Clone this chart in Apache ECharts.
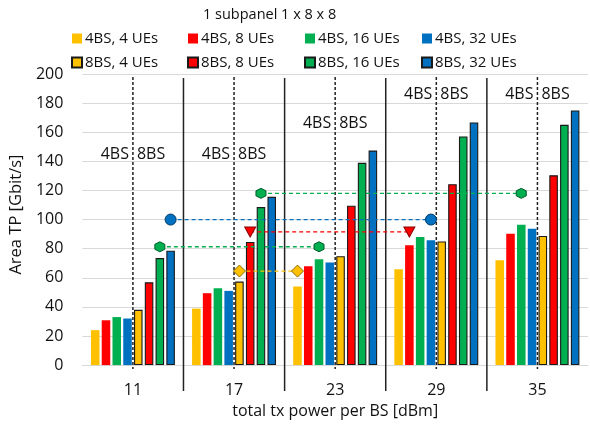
<!DOCTYPE html>
<html><head><meta charset="utf-8">
<script src="https://cdn.jsdelivr.net/npm/echarts@6/dist/echarts.min.js"></script>
<style>html,body{margin:0;padding:0;background:#fff}#c{width:590px;height:424px}</style>
</head><body><div id="c"></div><script>
// ---- data ----
const categories = ['11', '17', '23', '29', '35'];
const seriesNames = ['4BS, 4 UEs', '4BS, 8 UEs', '4BS, 16 UEs', '4BS, 32 UEs',
                     '8BS, 4 UEs', '8BS, 8 UEs', '8BS, 16 UEs', '8BS, 32 UEs'];
const bs4ue4  = [24.0, 38.8, 54.0, 65.8, 72.0];
const bs4ue8  = [30.8, 49.4, 68.0, 82.3, 90.3];
const bs4ue16 = [33.0, 52.8, 72.8, 88.0, 96.4];
const bs4ue32 = [32.0, 51.0, 70.5, 85.7, 93.7];
const bs8ue4  = [38.0, 57.4, 74.8, 85.0, 88.7];
const bs8ue8  = [56.9, 84.6, 109.5, 124.3, 130.4];
const bs8ue16 = [73.5, 108.6, 139.0, 157.1, 165.1];
const bs8ue32 = [78.6, 115.6, 147.4, 166.7, 175.0];
const yTicks = { min: 0, max: 200, interval: 20 };
// equal-throughput markers: value, from (category, series) to (category, series)
const matchValues     = [100, 81.3, 64.6, 91.5, 118];
const matchFromCat    = [0, 0, 1, 1, 1];
const matchFromSeries = [7, 6, 4, 5, 6];
const matchToCat      = [3, 2, 2, 3, 4];
const matchToSeries   = [3, 2, 0, 1, 2];
// "4BS | 8BS" annotation heights per category
const annoValues = [145, 145, 166, 186, 186];
const annoLeft = '4BS', annoRight = '8BS';

// ---- styles ----
const FONT = 'Open Sans';
const colors = ['#FFC000', '#FF0000', '#00B050', '#0070C0'];
const darkColors = ['#8a6a00', '#8a0000', '#005c2a', '#003a66'];
const CAT_GAP = 0.17, BAR_GAP = 0.26, N = 8;
const HEX = 'path://M0,-1L0.866,-0.5L0.866,0.5L0,1L-0.866,0.5L-0.866,-0.5Z';
const matchSymbols = ['circle', HEX, 'diamond', 'triangle', HEX];
const matchColorIdx = [3, 2, 0, 1, 2];
const matchSizes = [11, [10, 10], [12, 12], [11, 10], [10, 10]];
const matchRotate = [0, 0, 0, 180, 0];

function barCenterFrac(i) {
  const w = (1 - CAT_GAP) / (N + (N - 1) * BAR_GAP);
  const total = N * w + (N - 1) * w * BAR_GAP;
  return -total / 2 + i * w * (1 + BAR_GAP) + w / 2;
}

const allValues = [bs4ue4, bs4ue8, bs4ue16, bs4ue32, bs8ue4, bs8ue8, bs8ue16, bs8ue32];
const series = allValues.map((vals, i) => ({
  name: seriesNames[i],
  type: 'bar',
  data: vals,
  barGap: (BAR_GAP * 100) + '%',
  barCategoryGap: (CAT_GAP * 100) + '%',
  itemStyle: i < 4
    ? { color: colors[i % 4] }
    : { color: colors[i % 4], borderColor: '#1a1a1a', borderWidth: 1.1 },
  z: 2
}));

// dividers between categories
series.push({
  type: 'custom', xAxisIndex: 1, yAxisIndex: 0, clip: false, silent: true, z: 3,
  data: categories.slice(0, -1).map((c, i) => [i + 0.5]),
  renderItem: (p, api) => {
    const t = api.coord([api.value(0), yTicks.max]);
    const b = api.coord([api.value(0), yTicks.min]);
    return { type: 'line', shape: { x1: t[0], y1: t[1] + 4, x2: b[0], y2: b[1] + 26 },
             style: { stroke: '#222', lineWidth: 1.5 } };
  }
});
// dashed center lines separating 4BS / 8BS
series.push({
  type: 'custom', xAxisIndex: 1, yAxisIndex: 0, clip: false, silent: true, z: 6,
  data: categories.map((c, i) => [i]),
  renderItem: (p, api) => {
    const t = api.coord([api.value(0), yTicks.max]);
    const b = api.coord([api.value(0), yTicks.min]);
    return { type: 'line', shape: { x1: t[0], y1: t[1] + 3, x2: b[0], y2: b[1] + 4 },
             style: { stroke: '#222', lineWidth: 1.5, lineDash: [3, 2] } };
  }
});
// annotations
series.push({
  type: 'custom', xAxisIndex: 1, yAxisIndex: 0, clip: false, silent: true, z: 7,
  data: annoValues.map((v, i) => [i, v]),
  renderItem: (p, api) => {
    const pt = api.coord([api.value(0), api.value(1)]);
    const st = { fontSize: 16, fontFamily: FONT, fill: '#111', verticalAlign: 'middle' };
    return { type: 'group', children: [
      { type: 'text', x: pt[0] - 4, y: pt[1], style: Object.assign({ text: annoLeft, align: 'right' }, st) },
      { type: 'text', x: pt[0] + 4, y: pt[1], style: Object.assign({ text: annoRight, align: 'left' }, st) }
    ] };
  }
});
// equal-throughput connectors
matchValues.forEach((v, k) => {
  const ci = matchColorIdx[k];
  series.push({
    type: 'line', xAxisIndex: 1, yAxisIndex: 0, z: 8, silent: true,
    data: [[matchFromCat[k] + barCenterFrac(matchFromSeries[k]), v],
           [matchToCat[k] + barCenterFrac(matchToSeries[k]), v]],
    symbol: matchSymbols[k], symbolSize: matchSizes[k], symbolRotate: matchRotate[k],
    showAllSymbol: true,
    itemStyle: { color: colors[ci], borderColor: darkColors[ci], borderWidth: 1 },
    lineStyle: { color: colors[ci], width: 1.3, type: [4, 3] },
    emphasis: { disabled: true }
  });
});

const legendLefts = [71, 187, 304, 421];
const legends = legendLefts.map((l, k) => ({
  orient: 'vertical', left: l, top: 31, padding: 0, itemGap: 9,
  itemWidth: 10, itemHeight: 10, icon: 'rect', selectedMode: false,
  data: [seriesNames[k], seriesNames[k + 4]],
  textStyle: { fontSize: 15, fontFamily: FONT, color: '#111', padding: [0, 0, 0, -2] }
}));

const chart = echarts.init(document.getElementById('c'), null, { renderer: 'canvas' });
chart.setOption({
  animation: false,
  backgroundColor: '#fff',
  title: { text: '1 subpanel 1 x 8 x 8', left: 203, top: 7, padding: 0,
           textStyle: { fontSize: 14.5, fontWeight: 'normal', fontFamily: FONT, color: '#111' } },
  legend: legends,
  grid: { left: 82, right: 2, top: 74, bottom: 54 },
  xAxis: [
    { type: 'category', data: categories,
      axisTick: { show: false },
      axisLine: { lineStyle: { color: '#d9d9d9' } },
      axisLabel: { fontSize: 16, fontFamily: FONT, color: '#111', margin: 17 },
      name: 'total tx power per BS [dBm]', nameLocation: 'middle', nameGap: 31,
      nameTextStyle: { fontSize: 16, fontFamily: FONT, color: '#111' } },
    { type: 'value', min: -0.5, max: 4.5, show: false }
  ],
  yAxis: {
    type: 'value', min: yTicks.min, max: yTicks.max, interval: yTicks.interval,
    axisLine: { show: false }, axisTick: { show: false },
    splitLine: { lineStyle: { color: '#d9d9d9' } },
    axisLabel: { fontSize: 16, fontFamily: FONT, color: '#111', margin: 19 },
    name: 'Area TP [Gbit/s]', nameLocation: 'middle', nameGap: 50,
    nameTextStyle: { fontSize: 16.5, fontFamily: FONT, color: '#111', padding: [0, 0, 0, 10] }
  },
  series: series
});
</script></body></html>
